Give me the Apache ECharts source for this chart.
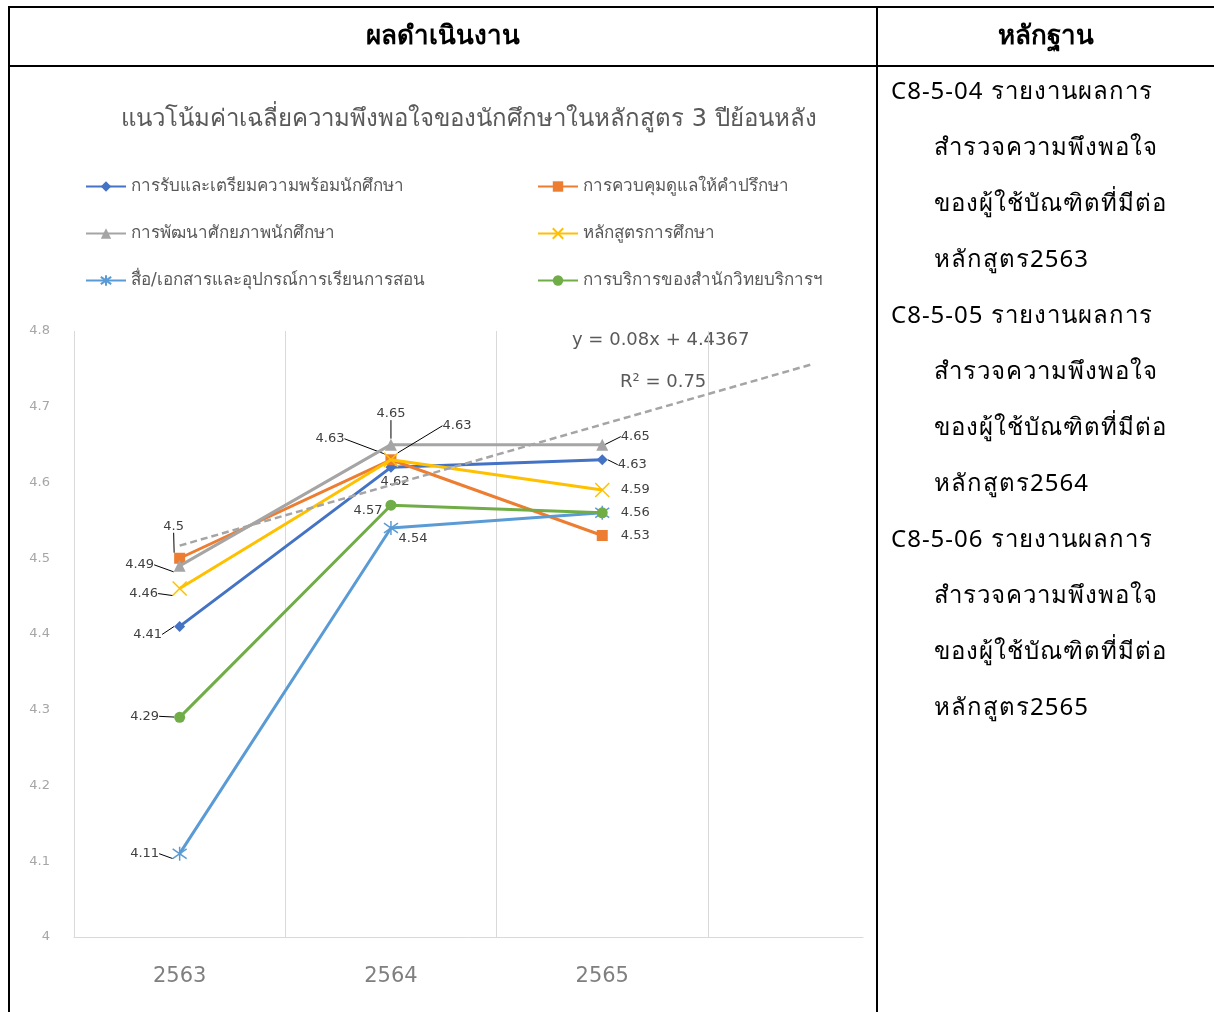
<!DOCTYPE html>
<html>
<head>
<meta charset="utf-8">
<script src="https://cdn.jsdelivr.net/npm/echarts@6/dist/echarts.min.js"></script>
<style>
  body { margin: 0; background: #fff; }
  #page { position: relative; width: 1214px; height: 1012px; overflow: hidden; font-family: "Noto Sans", "DejaVu Sans", sans-serif; }
  .ln { position: absolute; background: #000; }
  #chart { position: absolute; left: 0; top: 0; width: 876px; height: 1012px; }
  .hd { position: absolute; top: 14px; font-size: 26px; font-weight: bold; color: #000; text-align: center; }
  #ev { position: absolute; left: 891px; top: 62px; font-size: 24px; letter-spacing: 1px; line-height: 56px; color: #000; }
  #ev .in { padding-left: 43px; }
</style>
</head>
<body>
<div id="page">
  <div id="chart"></div>
  <div class="ln" style="left:8px;top:6px;width:1206px;height:2px"></div>
  <div class="ln" style="left:8px;top:65px;width:1206px;height:2px"></div>
  <div class="ln" style="left:8px;top:6px;width:2px;height:1006px"></div>
  <div class="ln" style="left:876px;top:6px;width:2px;height:1006px"></div>
  <div class="hd" style="left:10px;width:866px">ผลดำเนินงาน</div>
  <div class="hd" style="left:878px;width:336px">หลักฐาน</div>
  <div id="ev"></div>
</div>
<script>
// ปีการศึกษา
var years = ['2563', '2564', '2565'];
var seriesNames = [
  'การรับและเตรียมความพร้อมนักศึกษา',
  'การควบคุมดูแลให้คำปรึกษา',
  'การพัฒนาศักยภาพนักศึกษา',
  'หลักสูตรการศึกษา',
  'สื่อ/เอกสารและอุปกรณ์การเรียนการสอน',
  'การบริการของสำนักวิทยบริการฯ'
];
var admission = [4.41, 4.62, 4.63];
var counseling = [4.5, 4.63, 4.53];
var development = [4.49, 4.65, 4.65];
var curriculum = [4.46, 4.63, 4.59];
var media = [4.11, 4.54, 4.56];
var library = [4.29, 4.57, 4.56];
var yTicks = [4, 4.1, 4.2, 4.3, 4.4, 4.5, 4.6, 4.7, 4.8];
var evidence = [
  ['C8-5-04 รายงานผลการ', 'สำรวจความพึงพอใจ', 'ของผู้ใช้บัณฑิตที่มีต่อ', 'หลักสูตร2563'],
  ['C8-5-05 รายงานผลการ', 'สำรวจความพึงพอใจ', 'ของผู้ใช้บัณฑิตที่มีต่อ', 'หลักสูตร2564'],
  ['C8-5-06 รายงานผลการ', 'สำรวจความพึงพอใจ', 'ของผู้ใช้บัณฑิตที่มีต่อ', 'หลักสูตร2565']
];

// evidence column
var ev = document.getElementById('ev');
evidence.forEach(function (lines) {
  lines.forEach(function (t, i) {
    var d = document.createElement('div');
    if (i > 0) d.className = 'in';
    d.textContent = t;
    ev.appendChild(d);
  });
});

var allValues = [admission, counseling, development, curriculum, media, library];
var colors = ['#4472C4', '#ED7D31', '#A5A5A5', '#FFC000', '#5B9BD5', '#70AD47'];
var symbols = [
  'diamond', 'rect', 'triangle',
  'path://M0,0L10,10M10,0L0,10',
  'path://M5,0L5,10M1.5,1.5L8.5,8.5M8.5,1.5L1.5,8.5',
  'circle'
];
var symbolSizes = [11, 11, 12, 14, 14, 11];
// label offsets (dx, dy) and whether a leader line is drawn, per series / point
var labelShift = [
  [[-32, 8, 1], [4, 14, 0], [30, 5, 1]],
  [[-6, -32, 1], [-61, -21, 1], [33, 0, 0]],
  [[-40, -1, 1], [0, -31, 1], [33, -8, 1]],
  [[-36, 5, 1], [66, -34, 1], [33, 0, 0]],
  [[-35, 0, 1], [22, 11, 0], null],
  [[-35, -1, 1], [-23, 5, 0], [33, 0, 0]]
];

// linear trend of การพัฒนาศักยภาพนักศึกษา
var xs = [1, 2, 3];
var n = xs.length, sx = 0, sy = 0, sxy = 0, sxx = 0;
for (var i = 0; i < n; i++) {
  sx += xs[i]; sy += development[i]; sxy += xs[i] * development[i]; sxx += xs[i] * xs[i];
}
var slope = (n * sxy - sx * sy) / (n * sxx - sx * sx);
var icpt = (sy - slope * sx) / n;
var mean = sy / n, ssTot = 0, ssRes = 0;
for (i = 0; i < n; i++) {
  ssTot += Math.pow(development[i] - mean, 2);
  ssRes += Math.pow(development[i] - (icpt + slope * xs[i]), 2);
}
var r2 = 1 - ssRes / ssTot;
var fmt = function (v) { return String(parseFloat(v.toFixed(4))); };

var font = '"DejaVu Sans", "Noto Sans", sans-serif';

var series = allValues.map(function (vals, k) {
  return {
    name: seriesNames[k],
    type: 'line',
    z: 2 + k,
    symbol: symbols[k],
    symbolSize: symbolSizes[k],
    lineStyle: { width: 3, color: colors[k] },
    itemStyle: { color: colors[k], borderColor: colors[k], borderWidth: k === 3 || k === 4 ? 1.5 : 0 },
    label: {
      show: true,
      position: 'inside',
      color: '#404040',
      fontSize: 13,
      fontFamily: font,
      formatter: function (p) { return p.value[1]; }
    },
    labelLine: { show: true, lineStyle: { color: '#000', width: 1 } },
    labelLayout: function (p) {
      var s = labelShift[k][p.dataIndex];
      return s ? { dx: s[0], dy: s[1] } : {};
    },
    data: vals.map(function (v, j) {
      var s = labelShift[k][j];
      var item = { value: [xs[j], v] };
      if (!s) item.label = { show: false };
      else if (!s[2]) item.labelLine = { show: false };
      return item;
    }),
    animation: false
  };
});

series.push({
  name: 'trend',
  type: 'line',
  z: 10,
  symbol: 'none',
  silent: true,
  lineStyle: { width: 2.5, color: '#A5A5A5', type: [7, 4] },
  data: [[1, icpt + slope * 1], [4, icpt + slope * 4]],
  animation: false
});

var legendText = { color: '#595959', fontSize: 17, fontFamily: font };
var chart = echarts.init(document.getElementById('chart'));
chart.setOption({
  backgroundColor: 'transparent',
  animation: false,
  title: {
    text: 'แนวโน้มค่าเฉลี่ยความพึงพอใจของนักศึกษาในหลักสูตร 3 ปีย้อนหลัง',
    left: 116,
    top: 103,
    textStyle: { color: '#595959', fontSize: 24, fontWeight: 'normal', fontFamily: font }
  },
  legend: [
    {
      orient: 'vertical', left: 80, top: 173, itemGap: 30, itemWidth: 40, itemHeight: 13,
      data: [seriesNames[0], seriesNames[2], seriesNames[4]],
      textStyle: legendText
    },
    {
      orient: 'vertical', left: 532, top: 173, itemGap: 30, itemWidth: 40, itemHeight: 13,
      data: [seriesNames[1], seriesNames[3], seriesNames[5]],
      textStyle: legendText
    }
  ],
  grid: { left: 74, top: 331, right: 13, bottom: 75, containLabel: false },
  xAxis: [
    {
      type: 'value', min: 0.5, max: 4.234, interval: 1,
      axisLine: { show: true, lineStyle: { color: '#D9D9D9', width: 1 } },
      axisTick: { show: false },
      axisLabel: { show: false },
      splitLine: { show: true, showMaxLine: false, lineStyle: { color: '#D9D9D9', width: 1 } }
    },
    {
      type: 'value', min: 0.5, max: 4.234, interval: 0.5, position: 'bottom',
      axisLine: { show: false }, axisTick: { show: false }, splitLine: { show: false },
      axisLabel: {
        show: true, margin: 29, color: '#7F7F7F', fontSize: 21, fontFamily: font,
        showMaxLabel: false,
        formatter: function (v) {
          return (Math.abs(v - Math.round(v)) < 1e-6 && v >= 1 && v <= years.length) ? years[Math.round(v) - 1] : '';
        }
      }
    }
  ],
  yAxis: {
    type: 'value', min: yTicks[0], max: yTicks[yTicks.length - 1], interval: 0.1,
    axisLine: { show: false }, axisTick: { show: false }, splitLine: { show: false },
    axisLabel: {
      margin: 24, color: '#A6A6A6', fontSize: 13, fontFamily: font,
      formatter: function (v) { return String(parseFloat(v.toFixed(1))); }
    }
  },
  graphic: [
    {
      type: 'text', left: 572, top: 331, silent: true,
      style: { text: 'y = ' + fmt(slope) + 'x + ' + fmt(icpt), fill: '#595959', font: '18px ' + font }
    },
    {
      type: 'text', left: 620, top: 373, silent: true,
      style: { text: 'R² = ' + fmt(r2), fill: '#595959', font: '18px ' + font }
    }
  ],
  series: series
});
</script>
</body>
</html>
